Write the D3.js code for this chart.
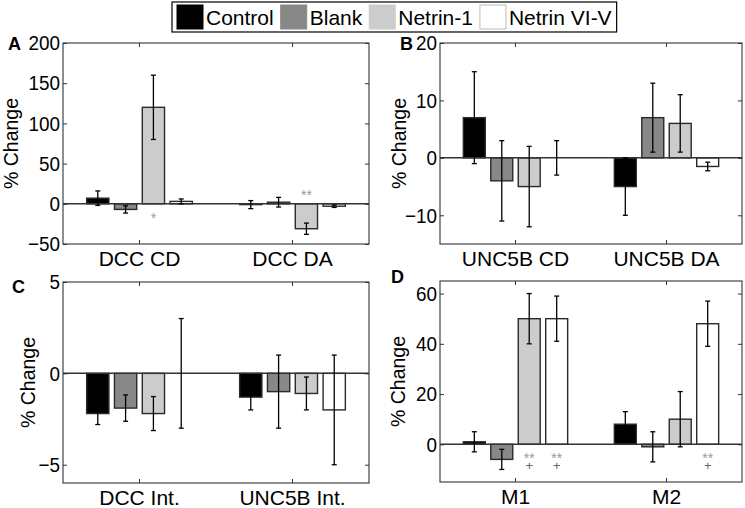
<!DOCTYPE html>
<html>
<head>
<meta charset="utf-8">
<script src="https://cdn.jsdelivr.net/npm/d3@7"></script>
<style>
  html, body { margin: 0; padding: 0; background: #fff; }
  svg { display: block; font-family: "Liberation Sans", Arial, Helvetica, sans-serif; }
</style>
</head>
<body>
<svg id="chart" width="745" height="508"></svg>
<script>
// ---------------- DATA ----------------
const series = ["Control", "Blank", "Netrin-1", "Netrin VI-V"];

const groupsA = ["DCC CD", "DCC DA"];
const valuesA = [[7, -7, 120, 3], [-1, 2, -31, -3]];
const errorsA = [[9, 4.5, 40, 3], [5, 6, 7, 1.5]];
const ticksA = [-50, 0, 50, 100, 150, 200];
const domainA = [-50, 200];

const groupsB = ["UNC5B CD", "UNC5B DA"];
const valuesB = [[7, -4, -5, 0], [-5, 7, 6, -1.5]];
const errorsB = [[8, 7, 7, 3], [5, 6, 5, 0.75]];
const ticksB = [-10, 0, 10, 20];
const domainB = [-15, 20];

const groupsC = ["DCC Int.", "UNC5B Int."];
const valuesC = [[-2.2, -1.9, -2.2, 0], [-1.3, -1.0, -1.1, -2.0]];
const errorsC = [[0.6, 0.72, 0.93, 3], [0.7, 2, 0.9, 3]];
const ticksC = [-5, 0, 5];
const domainC = [-6, 5];

const groupsD = ["M1", "M2"];
const valuesD = [[1, -6, 50, 50], [8, -1, 10, 48]];
const errorsD = [[4, 4, 10, 9], [5, 6, 11, 9]];
const ticksD = [0, 20, 40, 60];
const domainD = [-15, 65];

// significance marks: [groupIndex, seriesIndex, yValue, symbol]
const marksA = [[0, 2, -13.7, "*"], [1, 2, 14, "**"]];
const marksB = [];
const marksC = [];
const marksD = [[0, 2, -4.4, "**"], [0, 2, -8.3, "+"], [0, 3, -4.4, "**"], [0, 3, -8.3, "+"], [1, 3, -4.4, "**"], [1, 3, -8.3, "+"]];

// ---------------- STYLE ----------------
const fills = ["#000000", "#888888", "#cccccc", "#ffffff"];
const legendStroke = ["#000000", "#888888", "#cccccc", "#bbbbbb"];
const TICK_FS = 21, TICK_SX = 0.9;

const svg = d3.select("#chart");

const panels = [
  { letter: "A", groups: groupsA, values: valuesA, errors: errorsA, ticks: ticksA, domain: domainA, marks: marksA,
    x: 63, y: 43, w: 306, h: 201, lx: 8, ly: 50, labX: 18 },
  { letter: "B", groups: groupsB, values: valuesB, errors: errorsB, ticks: ticksB, domain: domainB, marks: marksB,
    x: 440, y: 43, w: 302, h: 201, lx: 400, ly: 50, labX: 406 },
  { letter: "C", groups: groupsC, values: valuesC, errors: errorsC, ticks: ticksC, domain: domainC, marks: marksC,
    x: 63, y: 282, w: 306, h: 201, lx: 12, ly: 293, labX: 35 },
  { letter: "D", groups: groupsD, values: valuesD, errors: errorsD, ticks: ticksD, domain: domainD, marks: marksD,
    x: 440, y: 281, w: 302, h: 201, lx: 391, ly: 283, labX: 405 }
];

const groupFrac = 4 / (4 + 1.5); // Matlab grouped-bar width

function drawPanel(p) {
  const g = svg.append("g").attr("transform", `translate(${p.x},${p.y})`);
  const x0 = d3.scaleBand().domain(p.groups).range([0, p.w]).padding(0);
  const bw = x0.bandwidth();
  const x1 = d3.scaleBand().domain(series)
    .range([bw * (1 - groupFrac) / 2, bw * (1 + groupFrac) / 2])
    .paddingInner(0.2).paddingOuter(0.1);
  const y = d3.scaleLinear().domain(p.domain).range([p.h, 0]);

  // bars
  p.groups.forEach((grp, gi) => {
    const gg = g.append("g").attr("transform", `translate(${x0(grp)},0)`);
    series.forEach((s, si) => {
      const v = p.values[gi][si];
      gg.append("rect")
        .attr("x", x1(s))
        .attr("width", x1.bandwidth())
        .attr("y", y(Math.max(0, v)))
        .attr("height", Math.abs(y(v) - y(0)))
        .attr("fill", fills[si])
        .attr("stroke", "#2a2a2a")
        .attr("stroke-width", 1.4);
    });
  });

  // zero line
  g.append("line")
    .attr("x1", 0).attr("x2", p.w)
    .attr("y1", y(0)).attr("y2", y(0))
    .attr("stroke", "#333").attr("stroke-width", 1.5);

  // error bars
  p.groups.forEach((grp, gi) => {
    series.forEach((s, si) => {
      const v = p.values[gi][si], e = p.errors[gi][si];
      const cx = x0(grp) + x1(s) + x1.bandwidth() / 2;
      const eg = g.append("g").attr("stroke", "#000").attr("stroke-width", 1.3);
      eg.append("line").attr("x1", cx).attr("x2", cx).attr("y1", y(v + e)).attr("y2", y(v - e));
      eg.append("line").attr("x1", cx - 2.5).attr("x2", cx + 2.5).attr("y1", y(v + e)).attr("y2", y(v + e));
      eg.append("line").attr("x1", cx - 2.5).attr("x2", cx + 2.5).attr("y1", y(v - e)).attr("y2", y(v - e));
    });
  });

  // significance marks
  p.marks.forEach(([gi, si, yv, sym]) => {
    const cx = x0(p.groups[gi]) + x1(series[si]) + x1.bandwidth() / 2;
    const isStar = sym.indexOf("*") >= 0;
    g.append("text")
      .attr("x", cx).attr("y", y(yv))
      .attr("dy", isStar ? "0.55em" : "0.35em")
      .attr("text-anchor", "middle")
      .attr("font-size", isStar ? 14 : 13)
      .attr("fill", isStar ? "#999" : "#666")
      .text(sym);
  });

  // axes
  const yl = g.append("g").call(d3.axisLeft(y).tickValues(p.ticks).tickSizeInner(-4).tickSizeOuter(0).tickPadding(3));
  const yr = g.append("g").attr("transform", `translate(${p.w},0)`)
    .call(d3.axisRight(y).tickValues(p.ticks).tickSizeInner(-4).tickSizeOuter(0).tickFormat(""));
  const xb = g.append("g").attr("transform", `translate(0,${p.h})`)
    .call(d3.axisBottom(x0).tickSizeInner(-4).tickSizeOuter(0).tickPadding(7));
  const xt = g.append("g")
    .call(d3.axisTop(x0).tickSizeInner(-4).tickSizeOuter(0).tickFormat(""));
  [yl, yr, xb, xt].forEach(a => {
    a.select(".domain").remove();
    a.selectAll("line").attr("stroke", "#333");
    a.selectAll("text").attr("font-family", null).attr("fill", "#000");
  });
  // tick labels: slightly narrow glyphs as in the original
  yl.selectAll("text")
    .attr("font-size", TICK_FS)
    .attr("x", function () { return +d3.select(this).attr("x") / TICK_SX; })
    .attr("transform", `scale(${TICK_SX},1)`);
  xb.selectAll("text").attr("font-size", 21);

  // box
  g.append("rect").attr("x", 0).attr("y", 0).attr("width", p.w).attr("height", p.h)
    .attr("fill", "none").attr("stroke", "#333").attr("stroke-width", 1.1);

  // y label
  svg.append("text")
    .attr("transform", `translate(${p.labX},${p.y + p.h / 2}) rotate(-90) scale(0.93,1)`)
    .attr("text-anchor", "middle")
    .attr("font-size", 21)
    .text("% Change");

  // panel letter
  svg.append("text").attr("x", p.lx).attr("y", p.ly)
    .attr("font-size", 18).attr("font-weight", "bold").text(p.letter);
}

panels.forEach(drawPanel);

// legend
const leg = svg.append("g").attr("transform", "translate(172,2)");
const legBox = leg.append("rect").attr("x", 0).attr("y", 0).attr("height", 30)
  .attr("fill", "#fff").attr("stroke", "#000").attr("stroke-width", 1.2);
let cx = 5;
series.forEach((s, i) => {
  leg.append("rect").attr("x", cx).attr("y", 3).attr("width", 26).attr("height", 24)
    .attr("fill", fills[i]).attr("stroke", legendStroke[i]).attr("stroke-width", 1);
  cx += 29;
  const t = leg.append("text").attr("x", cx).attr("y", 23).attr("font-size", 21).text(s);
  cx += t.node().getComputedTextLength() + 7;
});
legBox.attr("width", cx - 7 + 5);
</script>
</body>
</html>
